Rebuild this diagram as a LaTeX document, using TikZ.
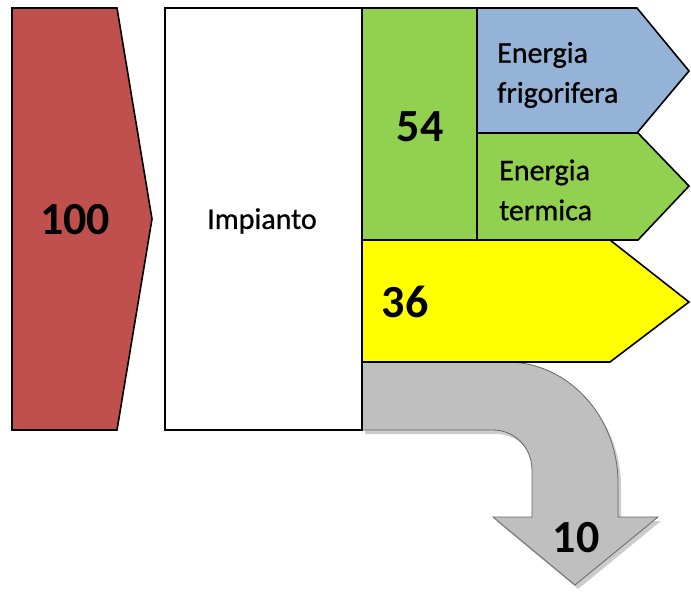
\documentclass[tikz,border=0pt]{standalone}
\usepackage{fontspec}
\setmainfont{Carlito}
\newfontfamily\lblfont[FakeBold=0.8]{Carlito}
\usepackage{tikz}
\usetikzlibrary{positioning}
\tikzset{flow/.style = {draw=black, line width=1.6pt, line join=miter}}
\tikzset{num/.style = {font=\fontsize{46}{46}\selectfont\bfseries, inner sep=0pt}}
\tikzset{lbl/.style = {font=\lblfont\fontsize{30}{40}\selectfont, inner sep=0pt, align=left}}
\definecolor{mred}{HTML}{C0504D}
\definecolor{mgreen}{HTML}{92D050}
\definecolor{mblue}{HTML}{95B3D7}
\definecolor{myellow}{HTML}{FFFF00}
\definecolor{mgray}{HTML}{BFBFBF}

\begin{document}
\begin{tikzpicture}[x=1pt, y=-1pt]
      \useasboundingbox (0, 0) rectangle (691, 592);

      % perdite
      \fill [black!20, shift={(3, 4)}] (362, 362) -- (507, 362) .. controls (568, 362) and (618, 416) .. (618, 483) -- (618, 517) -- (658, 517) -- (575, 585) -- (493, 517) -- (532, 517) -- (532, 470) .. controls (532, 448) and (515, 430) .. (493, 430) -- (362, 430) -- cycle;
      \draw [fill=mgray, draw=black!60, line width=0.8pt] (362, 362) -- (507, 362) .. controls (568, 362) and (618, 416) .. (618, 483) -- (618, 517) -- (658, 517) -- (575, 585) -- (493, 517) -- (532, 517) -- (532, 470) .. controls (532, 448) and (515, 430) .. (493, 430) -- (362, 430) -- cycle;

      \draw [flow, fill=mred] (12, 8) -- (117, 8) -- (152, 219) -- (117, 430) -- (12, 430) -- cycle;
      \draw [flow, fill=white] (165, 8) rectangle (362, 430);
      \draw [flow, fill=mgreen] (362, 8) rectangle (477, 240);
      \draw [flow, fill=mblue] (477, 8) -- (637, 8) -- (689, 71) -- (637, 133) -- (477, 133) -- cycle;
      \draw [flow, fill=mgreen] (477, 133) -- (638, 133) -- (689, 186) -- (638, 240) -- (477, 240) -- cycle;
      \draw [flow, fill=myellow] (362, 240) -- (610, 240) -- (689, 302) -- (610, 362) -- (362, 362) -- cycle;

      \node [num] (ingresso) at (75, 220) {100};
      \node [lbl] (impianto) at (262, 221) {Impianto};
      \node [num] (utile) at (420, 127) {54};
      \node [lbl, anchor=west] (frigo) at (497, 75) {Energia\\frigorifera};
      \node [lbl, anchor=west] (termica) at (499, 190) {Energia\\termica};
      \node [num] (elettrica) at (405, 302) {36};
      \node [num] (perdite) at (576, 538) {10};
    \end{tikzpicture}
\end{document}
